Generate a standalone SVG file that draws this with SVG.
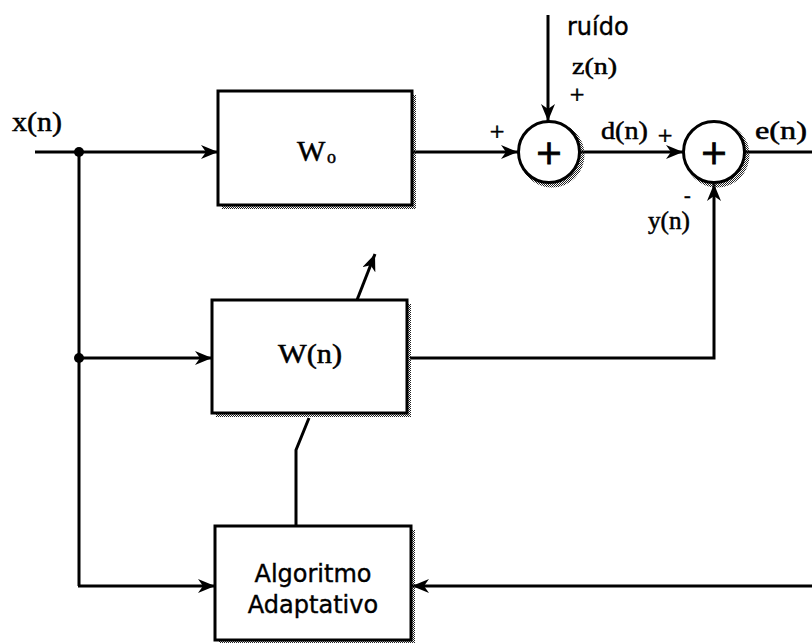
<svg xmlns="http://www.w3.org/2000/svg" width="812" height="643" viewBox="0 0 812 643">
<style>
.ln{fill:none;stroke:#000;stroke-width:3;stroke-linejoin:miter}
.box{fill:#fff;stroke:#000;stroke-width:3}
.sh{fill:url(#dots);stroke:none}
.csh{fill:none;stroke:url(#dots);stroke-width:5}
.serif{font-family:"Liberation Serif","Times New Roman",serif;fill:#000;stroke:#000;stroke-width:0.5}
.sans{font-family:"DejaVu Sans","Verdana",sans-serif;fill:#000;stroke:#000;stroke-width:0.4}
.pl{font-family:"Liberation Serif","Times New Roman",serif;fill:#000;stroke:#000;stroke-width:0.6;text-anchor:middle}
.cp{font-family:"DejaVu Sans",sans-serif;fill:#000;stroke:#000;stroke-width:0.8;text-anchor:middle}
</style>
<defs>
<pattern id="dots" width="2" height="2" patternUnits="userSpaceOnUse">
<rect x="0" y="0" width="1" height="1" fill="#222"/>
<rect x="1" y="1" width="1" height="1" fill="#222"/>
</pattern>
<marker id="ar" markerUnits="userSpaceOnUse" markerWidth="18" markerHeight="14" refX="17" refY="7" orient="auto">
<path d="M0,0 L17,7 L0,14 L5,7 Z" fill="#000"/>
</marker>
</defs>

<g id="connectors">
<line class="ln" x1="35" y1="152" x2="218" y2="152" marker-end="url(#ar)"/>
<line class="ln" x1="79" y1="152" x2="79" y2="586"/>
<line class="ln" x1="79" y1="358" x2="212" y2="358" marker-end="url(#ar)"/>
<polyline class="ln" points="78,586 215,586" marker-end="url(#ar)"/>
<line class="ln" x1="412" y1="152" x2="518" y2="152" marker-end="url(#ar)"/>
<line class="ln" x1="548" y1="15" x2="548" y2="121" marker-end="url(#ar)"/>
<line class="ln" x1="580" y1="152" x2="683" y2="152" marker-end="url(#ar)"/>
<line class="ln" x1="745" y1="152" x2="812" y2="152"/>
<polyline class="ln" points="410,358 714,358 714,184" marker-end="url(#ar)"/>
<line class="ln" x1="812" y1="586" x2="412" y2="586" marker-end="url(#ar)"/>
<line class="ln" x1="357" y1="300" x2="375" y2="254" marker-end="url(#ar)"/>
<polyline class="ln" points="296,526 296,450 309,418"/>
<circle cx="79" cy="152" r="5" fill="#000"/>
<circle cx="79" cy="358" r="5" fill="#000"/>
</g>

<g id="wo">
<rect class="sh" x="222" y="95" width="194" height="114"/>
<rect class="box" x="218" y="91" width="194" height="114"/>
<text class="serif" x="297" y="161" font-size="30">W</text>
<text class="serif" x="327" y="163" font-size="18">o</text>
</g>

<g id="wn">
<rect class="sh" x="216" y="304" width="195" height="113"/>
<rect class="box" x="212" y="300" width="195" height="113"/>
<text class="serif" x="278" y="363" font-size="27" textLength="64" lengthAdjust="spacingAndGlyphs">W(n)</text>
</g>

<g id="alg">
<rect class="sh" x="219" y="530" width="196" height="114"/>
<rect class="box" x="215" y="526" width="196" height="114"/>
<text class="sans" x="313" y="582" font-size="24" text-anchor="middle">Algoritmo</text>
<text class="sans" x="313" y="613" font-size="24" text-anchor="middle">Adaptativo</text>
</g>

<g id="sum1">
<circle class="csh" cx="552" cy="155" r="30"/>
<circle cx="549" cy="152" r="30.5" fill="#fff" stroke="#000" stroke-width="3"/>
<text class="cp" x="549" y="164" font-size="34">+</text>
</g>

<g id="sum2">
<circle class="csh" cx="717" cy="155" r="30"/>
<circle cx="714" cy="152" r="30.5" fill="#fff" stroke="#000" stroke-width="3"/>
<text class="cp" x="714" y="164" font-size="34">+</text>
</g>

<g id="labels">
<text class="serif" x="12" y="131" font-size="27" textLength="50" lengthAdjust="spacingAndGlyphs">x(n)</text>
<text class="sans" x="567" y="35" font-size="24">ruído</text>
<text class="serif" x="572" y="74" font-size="23" textLength="45" lengthAdjust="spacingAndGlyphs">z(n)</text>
<text class="pl" x="577" y="103" font-size="26">+</text>
<text class="pl" x="497" y="140" font-size="26">+</text>
<text class="serif" x="601" y="139" font-size="25" textLength="47" lengthAdjust="spacingAndGlyphs">d(n)</text>
<text class="pl" x="665" y="144" font-size="26">+</text>
<text class="serif" x="755" y="139" font-size="25" textLength="52" lengthAdjust="spacingAndGlyphs">e(n)</text>
<text class="serif" x="648" y="229" font-size="25" textLength="42" lengthAdjust="spacingAndGlyphs">y(n)</text>
<text class="serif" x="684" y="202" font-size="20">-</text>
</g>
</svg>
